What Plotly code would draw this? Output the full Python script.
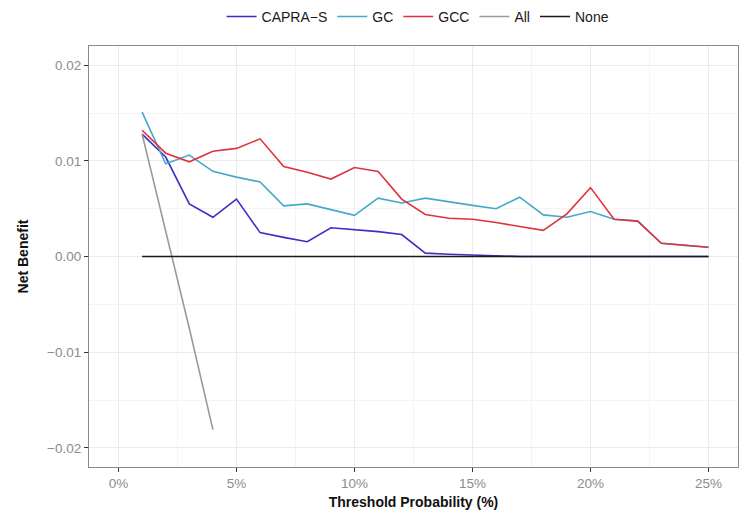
import plotly.graph_objects as go

# Threshold probabilities (%)
thresholds = list(range(1, 26))

capra_s = [0.0128, 0.0104, 0.0055, 0.0041, 0.0060, 0.0025, 0.0020, 0.00155, 0.0030, 0.0028,
           0.0026, 0.0023, 0.00035, 0.00024, 0.00014, 0.00003, 0.0, 0.0, 0.0, 0.0,
           0.0, 0.0, 0.0, 0.0, 0.0]
gc = [0.0151, 0.0097, 0.0106, 0.0089, 0.0083, 0.0078, 0.0053, 0.0055, 0.0049, 0.0043,
      0.0061, 0.0056, 0.0061, 0.0057, 0.00535, 0.0050, 0.0062, 0.00435, 0.0041, 0.0047,
      0.0039, 0.0037, 0.00138, 0.00117, 0.00097]
gcc = [0.0132, 0.0108, 0.0099, 0.0110, 0.0113, 0.0123, 0.0094, 0.0088, 0.0081, 0.0093,
       0.0089, 0.0060, 0.0044, 0.0040, 0.0039, 0.00356, 0.00314, 0.00273, 0.00446, 0.0072,
       0.0039, 0.0037, 0.00138, 0.00117, 0.00097]
all_thresholds = [1, 2, 3, 4]
all_nb = [0.0128, 0.0028, -0.0075, -0.0181]
none_nb = [0.0] * 25

series = [
    ("CAPRA\u2212S", thresholds, capra_s, "#3a2fc6"),
    ("GC", thresholds, gc, "#45a9c9"),
    ("GCC", thresholds, gcc, "#e0313d"),
    ("All", all_thresholds, all_nb, "#9a9a9a"),
    ("None", thresholds, none_nb, "#1a1a1a"),
]

fig = go.Figure()
for name, xs, ys, col in series:
    fig.add_trace(go.Scatter(x=xs, y=ys, mode="lines", name=name,
                             line=dict(color=col, width=1.6)))

font_family = "Liberation Sans, Arial, sans-serif"
fig.update_layout(
    width=751, height=520,
    margin=dict(l=81, r=21, t=37, b=61),
    paper_bgcolor="white", plot_bgcolor="white",
    font=dict(family=font_family, size=13, color="#222"),
    showlegend=True,
    legend=dict(orientation="h", x=0.507, xanchor="center",
                yref="container", y=0.983, yanchor="middle",
                font=dict(size=14, color="#1a1a1a"), itemwidth=30,
                tracegroupgap=0, bgcolor="rgba(0,0,0,0)"),
    xaxis=dict(
        range=[-1.25, 26.25], tick0=0, dtick=5, ticksuffix="%",
        showgrid=True, gridcolor="#ebebeb", gridwidth=1,
        minor=dict(dtick=2.5, showgrid=True, gridcolor="#f4f4f4", gridwidth=0.6),
        zeroline=False, showline=True, linecolor="#8a8a8a", linewidth=1.2, mirror=True,
        ticks="outside", ticklen=4, tickcolor="#333", tickwidth=1,
        tickfont=dict(size=13.5, color="#8c8c8c"),
        title=dict(text="<b>Threshold Probability (%)</b>", font=dict(size=14, color="#111"),
                   standoff=6),
    ),
    yaxis=dict(
        range=[-0.022, 0.022], tick0=0, dtick=0.01, tickformat=".2f",
        showgrid=True, gridcolor="#ebebeb", gridwidth=1,
        minor=dict(dtick=0.005, showgrid=True, gridcolor="#f4f4f4", gridwidth=0.6),
        zeroline=False, showline=True, linecolor="#8a8a8a", linewidth=1.2, mirror=True,
        ticks="outside", ticklen=4, tickcolor="#333", tickwidth=1,
        tickfont=dict(size=13.5, color="#8c8c8c"),
        title=dict(text="<b>Net Benefit</b>", font=dict(size=14, color="#111"),
                   standoff=15),
    ),
)

fig.write_html("out.html")
